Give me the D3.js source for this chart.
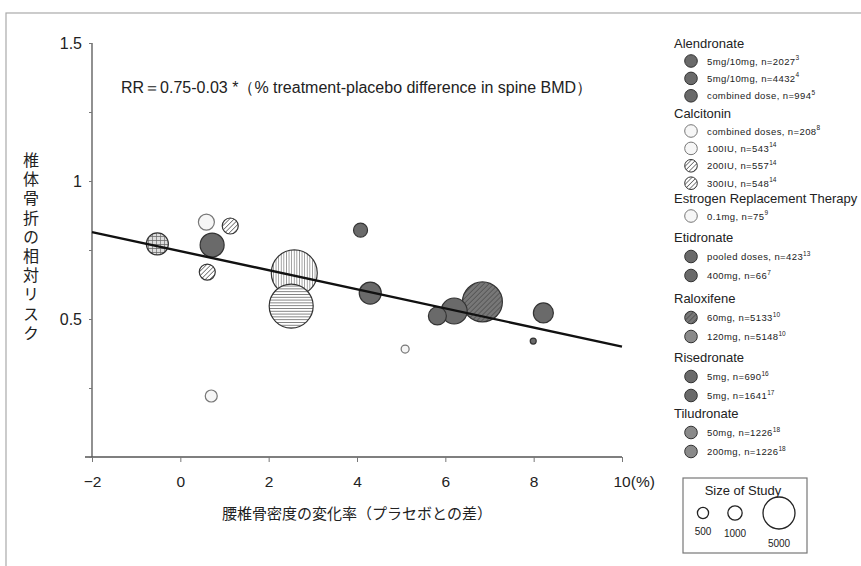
<!DOCTYPE html>
<html lang="ja">
<head>
<meta charset="UTF-8" />
<title>RR vs spine BMD</title>
<script src="https://cdn.jsdelivr.net/npm/d3@7"></script>
<style>
  body { margin: 0; background: #fff; }
  svg text { font-family: "Liberation Sans", Arial, sans-serif; fill: #222; }
  .jp { font-family: "Noto Sans CJK JP", sans-serif; }
</style>
</head>
<body>
<svg id="chart" width="861" height="566"></svg>
<script>
// studies: % treatment-placebo difference in spine BMD, relative risk, size, mark style
const bmdDiff = [-0.52, 0.72, 0.59, 1.13, 0.61, 0.70, 2.58, 2.51, 4.08, 4.30, 5.82, 6.20, 6.84, 8.22, 7.99, 5.09];
const relRisk = [0.772, 0.768, 0.851, 0.837, 0.670, 0.221, 0.667, 0.547, 0.822, 0.594, 0.511, 0.529, 0.562, 0.522, 0.420, 0.391];
const studyN  = [1560, 1855, 825, 825, 825, 464, 6800, 6235, 630, 1560, 1044, 2177, 5133, 1288, 116, 206];
const markType = ["grid", "dark", "open", "diag", "diag", "open", "vert", "horiz", "dark", "dark", "dark", "dark", "diagDark", "dark", "dark", "open"];

// regression line endpoints as drawn
const fitX = [-2, 10];
const fitY = [0.815, 0.40];

const xTicks = [-2, 0, 2, 4, 6, 8, 10];
const yTicks = [0, 0.25, 0.5, 0.75, 1, 1.25, 1.5];
const yTickLabels = { 0.5: "0.5", 1: "1", 1.5: "1.5" };

const titleText = "RR＝0.75-0.03 *（% treatment-placebo difference in spine BMD）";
const xLabel = "腰椎骨密度の変化率（プラセボとの差）";
const yLabel = "椎体骨折の相対リスク";

const legendGroups = ["Alendronate", "Calcitonin", "Estrogen Replacement Therapy", "Etidronate", "Raloxifene", "Risedronate", "Tiludronate"];
const legendItems = [
  [["5mg/10mg, n=2027", "3", "dark"], ["5mg/10mg, n=4432", "4", "dark"], ["combined dose, n=994", "5", "dark"]],
  [["combined doses, n=208", "8", "open"], ["100IU, n=543", "14", "open"], ["200IU, n=557", "14", "diag"], ["300IU, n=548", "14", "diag"]],
  [["0.1mg, n=75", "9", "open"]],
  [["pooled doses, n=423", "13", "dark"], ["400mg, n=66", "7", "dark"]],
  [["60mg, n=5133", "10", "diagDark"], ["120mg, n=5148", "10", "mid"]],
  [["5mg, n=690", "16", "dark"], ["5mg, n=1641", "17", "dark"]],
  [["50mg, n=1226", "18", "mid"], ["200mg, n=1226", "18", "mid"]]
];
const sizeKey = [500, 1000, 5000];

const svg = d3.select("#chart");

// frame of the scanned figure
svg.append("rect").attr("x", 6).attr("y", 13).attr("width", 900).attr("height", 600)
  .attr("fill", "none").attr("stroke", "#aaa").attr("stroke-width", 1.2);

// hatch patterns
const defs = svg.append("defs");
function stripes(id, angle, gap, bg, fg, w) {
  const p = defs.append("pattern").attr("id", id).attr("patternUnits", "userSpaceOnUse")
    .attr("width", gap).attr("height", gap).attr("patternTransform", `rotate(${angle})`);
  p.append("rect").attr("width", gap).attr("height", gap).attr("fill", bg);
  p.append("line").attr("x1", 0).attr("y1", 0).attr("x2", 0).attr("y2", gap)
    .attr("stroke", fg).attr("stroke-width", w);
}
stripes("p-diag", 45, 3.2, "#fff", "#555", 1.4);
stripes("p-vert", 0, 2.6, "#fff", "#555", 1.1);
stripes("p-horiz", 90, 2.8, "#fff", "#444", 1.3);
stripes("p-diagDark", 45, 3.5, "#777", "#444", 1.2);
const g = defs.append("pattern").attr("id", "p-grid").attr("patternUnits", "userSpaceOnUse")
  .attr("width", 4).attr("height", 4);
g.append("rect").attr("width", 4).attr("height", 4).attr("fill", "#ddd");
g.append("path").attr("d", "M0,0H4M0,0V4").attr("stroke", "#666").attr("stroke-width", 1.3);

const fillOf = {
  dark: "#6a6a6a", mid: "#8a8a8a", open: "#f6f6f6",
  diag: "url(#p-diag)", vert: "url(#p-vert)", horiz: "url(#p-horiz)",
  diagDark: "url(#p-diagDark)", grid: "url(#p-grid)"
};
const strokeOf = t => (t === "open" ? "#777" : "#333");

const x = d3.scaleLinear().domain([-2, 10]).range([92, 622]);
const y = d3.scaleLinear().domain([0, 1.5]).range([457, 43]);
const r = d3.scaleSqrt().domain([0, 5000]).range([0, 19.7]);
const rKey = d3.scaleSqrt().domain([0, 5000]).range([0, 16]);

// axes
const xAxis = svg.append("g").attr("transform", "translate(0,457)")
  .call(d3.axisBottom(x).tickValues(xTicks).tickSize(5)
    .tickFormat(d => d < 0 ? "\u2212" + Math.abs(d) : d === 10 ? "10(%)" : d));
xAxis.select(".domain").attr("d", "M85,0H622").attr("stroke", "#555").attr("stroke-width", 1.3);
xAxis.selectAll(".tick line").attr("stroke", "#777");
xAxis.selectAll(".tick text").attr("font-size", 15.5).attr("y", 8).attr("dy", 22)
  .style("font-family", "Liberation Sans, Arial, sans-serif").attr("fill", "#222");
xAxis.selectAll(".tick").filter(d => d === 10).select("text").attr("text-anchor", "start").attr("dx", -9);

const yAxis = svg.append("g").attr("transform", "translate(92,0)")
  .call(d3.axisLeft(y).tickValues(yTicks).tickSize(3).tickFormat(d => yTickLabels[d] || ""));
yAxis.select(".domain").attr("d", "M0,43V457").attr("stroke", "#555").attr("stroke-width", 1.3);
yAxis.selectAll(".tick line").attr("stroke", "#777");
yAxis.selectAll(".tick text").attr("font-size", 16).attr("dx", -4)
  .style("font-family", "Liberation Sans, Arial, sans-serif").attr("fill", "#222");

// bubbles, largest first so small ones stay visible
const idx = d3.range(bmdDiff.length).sort((a, b) => studyN[b] - studyN[a]);
svg.append("g").selectAll("circle").data(idx).join("circle")
  .attr("cx", i => x(bmdDiff[i])).attr("cy", i => y(relRisk[i]))
  .attr("r", i => r(studyN[i]))
  .attr("fill", i => fillOf[markType[i]])
  .attr("stroke", i => strokeOf(markType[i])).attr("stroke-width", 1.2);

// fitted line
svg.append("line")
  .attr("x1", x(fitX[0])).attr("y1", y(fitY[0]))
  .attr("x2", x(fitX[1])).attr("y2", y(fitY[1]))
  .attr("stroke", "#111").attr("stroke-width", 2.4);

svg.append("text").attr("x", 121).attr("y", 93).attr("font-size", 16).text(titleText);

svg.append("text").attr("class", "jp").attr("x", 357).attr("y", 519)
  .attr("text-anchor", "middle").attr("font-size", 15).text(xLabel);

svg.append("text").attr("class", "jp").attr("x", 31).attr("y", 152)
  .attr("font-size", 16).attr("letter-spacing", 3.2)
  .style("writing-mode", "vertical-rl").style("text-orientation", "upright")
  .text(yLabel);

// legend
const headerY = [43, 113, 198, 237, 298, 357, 413];
const leg = svg.append("g");
legendGroups.forEach((name, gi) => {
  leg.append("text").attr("x", 674).attr("y", headerY[gi] + 4.5).attr("font-size", 13).text(name);
  const step = gi < 3 ? 17.4 : 19;
  const first = gi < 3 ? 18 : 19.5;
  legendItems[gi].forEach(([label, sup, type], k) => {
    const cy = headerY[gi] + first + k * step;
    leg.append("circle").attr("cx", 691).attr("cy", cy).attr("r", 6.3)
      .attr("fill", fillOf[type]).attr("stroke", strokeOf(type)).attr("stroke-width", 1);
    const t = leg.append("text").attr("x", 707).attr("y", cy + 3.5).attr("font-size", 9.5)
      .attr("letter-spacing", 0.4).text(label);
    t.append("tspan").attr("dy", -4.5).attr("font-size", 6.5).attr("letter-spacing", 0).text(sup);
  });
});

// size key
const key = svg.append("g");
key.append("rect").attr("x", 683).attr("y", 478).attr("width", 124).attr("height", 75)
  .attr("fill", "#fff").attr("stroke", "#777").attr("stroke-width", 1.2);
key.append("text").attr("x", 743).attr("y", 495).attr("text-anchor", "middle").attr("font-size", 13).text("Size of Study");
const keyX = [703, 735, 779];
const keyLabY = [535, 537, 547];
sizeKey.forEach((n, i) => {
  key.append("circle").attr("cx", keyX[i]).attr("cy", 513).attr("r", rKey(n) * (i === 0 ? 1.1 : 1))
    .attr("fill", "#fff").attr("stroke", "#222").attr("stroke-width", 1.3);
  key.append("text").attr("x", keyX[i]).attr("y", keyLabY[i]).attr("text-anchor", "middle")
    .attr("font-size", 10).text(n);
});
</script>
</body>
</html>
